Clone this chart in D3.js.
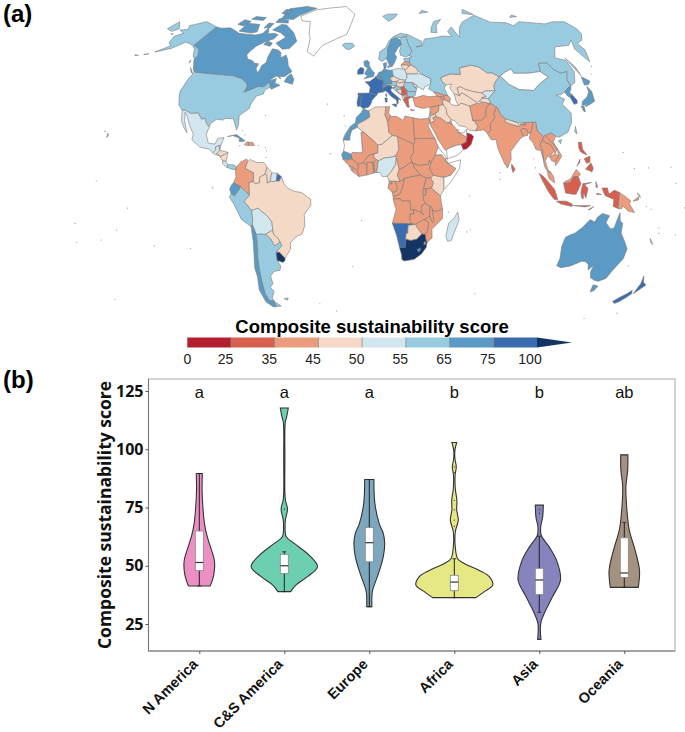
<!DOCTYPE html>
<html>
<head>
<meta charset="utf-8">
<script src="https://cdn.jsdelivr.net/npm/d3@7"></script>
<style>
body { margin: 0; background: #fff; }
svg { display: block; }
</style>
</head>
<body>
<div id="chart"></div>
<script>
// ---- panel (a) data ----
const legendTicks = [0, 25, 35, 45, 50, 55, 65, 75, 100];
const legendColors = ['#b2202f', '#d75f4e', '#ea9c7d', '#f4d9c7', '#d2e6ef', '#98cbe0', '#5a9ac5', '#3a6db0', '#143464'];

// country scores (null = no data)
const countryScores = [
  ['Canada', 70], ['USA', 60], ['Alaska', 60], ['Greenland', null], ['Mexico', 52], ['Guatemala', 52], ['Belize', 52],
  ['Honduras', 47], ['Salvador', 47], ['Nicaragua', 47], ['CostaRica', 52], ['Panama', 60], ['Cuba', 68], ['Haiti', 40], ['Dominican', 40],
  ['Colombia', 40], ['Venezuela', 47], ['Guyana', 47], ['Suriname', 52], ['FrGuiana', 80], ['Ecuador', 68], ['Peru', 60], ['Bolivia', 52],
  ['Paraguay', 47], ['Chile', 70], ['Argentina', 60], ['Uruguay', 105], ['Brazil', 47], ['Falkland', 60],
  ['Iceland', 60], ['Svalbard', 60], ['Norway', 60], ['Sweden', 70], ['Finland', 60], ['Denmark', 70], ['UK', 70], ['Ireland', 80],
  ['France', 80], ['Spain', 80], ['Portugal', 80], ['Belgium', 70], ['Netherlands', 70], ['Germany', 70], ['Switzerland', 70], ['Austria', 60],
  ['Italy', 80], ['Poland', 52], ['Czech', 47], ['Slovakia', 47], ['Hungary', 47], ['Belarus', 47], ['Lithuania', 47], ['Latvia', 40], ['Estonia', 60],
  ['Ukraine', 52], ['Moldova', 47], ['Romania', 60], ['Bulgaria', 60], ['Serbia', 30], ['Bosnia', 47], ['Croatia', 60], ['Slovenia', 60],
  ['Albania', 47], ['Macedonia', 40], ['Montenegro', 30], ['Greece', 30], ['Turkey', 40],
  ['Georgia', 40], ['Armenia', 40], ['Azerbaijan', 40], ['Syria', 40], ['Lebanon', 47], ['Israel', 52], ['Jordan', 47], ['Iraq', 47],
  ['Saudi', 40], ['Yemen', null], ['Oman', 20], ['UAE', null], ['Qatar', null], ['Kuwait', 40], ['Iran', 47], ['Afghanistan', 40], ['Pakistan', 40],
  ['Turkmenistan', 47], ['Uzbekistan', 47], ['Kazakhstan', 47], ['Kyrgyzstan', 52], ['Tajikistan', 47], ['Russia', 60], ['Mongolia', null], ['China', 60],
  ['NKorea', 70], ['SKorea', 80], ['Japan', 70], ['Taiwan', 60], ['India', 40], ['Nepal', 47], ['Bhutan', 40], ['Bangladesh', 40],
  ['Myanmar', 40], ['Thailand', 40], ['Laos', 40], ['Vietnam', 40], ['Cambodia', 40], ['Malaysia', 40], ['Indonesia', 30], ['PNG', 40],
  ['Philippines', 30], ['SriLanka', 30], ['Australia', 70], ['NewZealand', 80], ['NewCaledonia', 60],
  ['Morocco', 70], ['Algeria', 47], ['Tunisia', 40], ['Libya', 40], ['Egypt', 40], ['Sudan', 40], ['SSudan', 40], ['Chad', 40], ['Niger', 47], ['Mali', 40],
  ['Mauritania', null], ['Senegal', 70], ['GuineaBissau', 40], ['Guinea', 40], ['SierraLeone', 40], ['Liberia', 40], ['IvoryCoast', 40], ['Burkina', 40],
  ['Ghana', 40], ['Togo', 40], ['Benin', 40], ['Nigeria', 52], ['Cameroon', 47], ['CAR', 40], ['EqGuinea', 40], ['Gabon', 40], ['Congo', 40], ['DRC', 40],
  ['Uganda', 40], ['Kenya', 47], ['Rwanda', 40], ['Tanzania', 40], ['Ethiopia', 40], ['Eritrea', null], ['Djibouti', null], ['Somalia', null],
  ['Angola', 40], ['Zambia', 40], ['Zimbabwe', 40], ['Malawi', 40], ['Mozambique', 40], ['Namibia', 80], ['Botswana', 47], ['SouthAfrica', 105],
  ['Lesotho', 70], ['Swaziland', 40], ['Madagascar', 52]
];

// simplified country outlines, [lon, lat]
const countryOutlines = {
  Canada: [[[-141,69.6],[-135,69.3],[-128,70],[-124,69.5],[-115,68],[-108,68],[-100,68],[-95,69],[-94,72],[-90,69],[-85,69.5],[-81,69],[-82,67],[-87,65.5],[-92,63],[-94,60.5],[-94.5,58.8],[-92,57],[-88,56.5],[-85,55.3],[-82,55.2],[-82,53],[-80,51.3],[-79,52],[-79,54.5],[-77,56],[-78,58.7],[-78,62.4],[-73,62],[-70,61],[-68,58.5],[-65,60],[-62,57.5],[-60,55],[-56,52.5],[-60,50],[-66,50],[-70,47.5],[-65,49],[-65,47],[-61,46],[-66,44],[-67,45],[-69,47.3],[-71,45],[-75,45],[-79,43.5],[-83,42],[-82.5,45],[-84.5,46.5],[-88.5,48],[-95,49],[-110,49],[-123,49],[-125,50],[-130,54],[-133,57],[-137,59],[-141,60]],
    [[-80,73.7],[-72,71.5],[-68,70],[-62,66.5],[-65,63],[-70,62.5],[-78,65],[-73,68],[-80,70],[-89,71],[-85,73.8]],
    [[-117,69],[-105,68.7],[-101,69.5],[-105,73],[-117,73]],[[-90,76.5],[-78,76.5],[-75,78.5],[-62,82.3],[-75,83],[-92,81.5]],
    [[-125,72],[-118,71.5],[-116,74],[-124,74.5]],[[-92,74.5],[-80,74.7],[-82,76],[-92,76.5]],[[-95,79],[-87,78.5],[-88,81],[-95,81]],
    [[-118,75],[-106,75],[-106,76.5],[-117,76.5]],[[-87,64],[-81,63.5],[-81,65],[-86,65.7]],[[-59,47.7],[-53,46.7],[-53,49],[-56,51.5],[-58,50]],
    [[-128,50.7],[-123.5,48.4],[-125,48.7]],[[-98,71.5],[-93,72],[-93,74],[-98,74]],[[-64,49.9],[-61.8,49.2],[-63,49.2]],[[-132.5,54],[-131.5,53],[-132,52.8]]],
  USA: [[[-123,49],[-110,49],[-95,49],[-88.5,48],[-84.5,46.5],[-82.5,45],[-83,42],[-79,43.5],[-75,45],[-71,45],[-69,47.3],[-67,45],[-70,43.5],[-70,41.7],[-74,40.7],[-76,37],[-76,35],[-81,31.5],[-80,27],[-80.5,25.2],[-82.5,28],[-84,30],[-89,30],[-90,29.2],[-94,29.5],[-97,27.5],[-97.2,25.9],[-99.5,27.5],[-101.5,29.7],[-103,29],[-106.5,31.7],[-111,31.3],[-114.8,32.5],[-117.1,32.5],[-120.5,34.5],[-122.5,37.5],[-124.3,40.3],[-124,46]],
    [[-156,20.8],[-155,19.8],[-155.7,19]],[[-158.2,21.6],[-157.7,21.3],[-158,21.2]]],
  Alaska: [[[-141,69.6],[-148,70.4],[-156.5,71.3],[-163,69],[-166,68.3],[-162,66.5],[-168,65.6],[-161,64.5],[-165,62.5],[-162,59.5],[-158,58.5],[-164,54.8],[-155,57.5],[-152,59.5],[-150,61],[-146,60.7],[-141,60],[-137,58.5],[-133,55.5],[-130.5,55],[-130,56],[-134,59],[-137,59.5],[-141,60.3]],
    [[-170,53],[-167,53.7],[-168,53.2]],[[-176,52.2],[-173,52.2],[-175,51.8]],[[-170,63.5],[-168,63.3],[-170,63.1]]],
  Greenland: [[[-73,78.2],[-68,76],[-60,76],[-55,70.5],[-52,68],[-50,62],[-44,60],[-40,65],[-30,68.3],[-22,70.5],[-20,75],[-18,80],[-30,83.5],[-50,82.5],[-62,81.5]]],
  Mexico: [[[-117.1,32.5],[-114.8,32.5],[-111,31.3],[-106.5,31.7],[-103,29],[-101.5,29.7],[-99.5,27.5],[-97.2,25.9],[-97.8,22.5],[-95.5,18.8],[-91.5,18.5],[-90.5,21],[-87,21.5],[-88,18],[-89,17.9],[-91,17.2],[-90.5,16],[-92,14.6],[-94.5,16.2],[-100,17],[-105.5,20],[-105.5,22.5],[-109,26],[-112.5,30],[-114.7,31.7],[-113,28],[-109.5,23],[-112,25],[-115,28]]],
  Guatemala: [[[-92,14.6],[-90.5,16],[-91,17.2],[-89,17.9],[-88.2,15.8],[-89.3,14.4],[-90,13.8]]],
  Belize: [[[-89,17.9],[-88,18],[-88.2,15.8]]],
  Honduras: [[[-88.2,15.8],[-83.2,15],[-85,14],[-87.5,13],[-89.3,14.4]]],
  Salvador: [[[-90,13.8],[-89.3,14.4],[-87.7,13.3]]],
  Nicaragua: [[[-83.2,15],[-83.7,11],[-85.7,11.1],[-87.5,13],[-85,14]]],
  CostaRica: [[[-85.7,11.1],[-83.7,11],[-82.6,9.5],[-83,8.3],[-85.7,10]]],
  Panama: [[[-82.6,9.5],[-79.5,9.5],[-77.3,8.6],[-78,7.3],[-80,7.5],[-83,8.3]]],
  Cuba: [[[-85,22],[-80,23],[-75,20.7],[-74.2,20.2],[-77.5,19.9],[-78,21.5],[-82,22.5]]],
  Haiti: [[[-74.4,18.5],[-72,18.2],[-71.7,19.7],[-73,19.9]]],
  Dominican: [[[-71.7,19.7],[-72,18.2],[-68.5,18.3],[-69.5,19.7]]],
  Colombia: [[[-77.3,8.6],[-75.5,10.7],[-72,12.2],[-71.3,11],[-72.5,8],[-70,7],[-67.5,6],[-67.5,2],[-70,1.5],[-69.8,-4.2],[-72,-2.5],[-75,-0.2],[-78.8,1.4],[-77.5,4],[-78,7.3]]],
  Venezuela: [[[-71.3,11],[-70,12],[-66,10.6],[-62,10.7],[-60,8.5],[-61,5.3],[-64,4],[-64,1.5],[-66.5,1],[-67.5,2],[-67.5,6],[-70,7],[-72.5,8]]],
  Guyana: [[[-60,8.5],[-57.2,6],[-58,2],[-59.8,1.3],[-60,5],[-61,5.3]]],
  Suriname: [[[-57.2,6],[-54,5.8],[-54.5,2.3],[-56,2],[-58,2]]],
  FrGuiana: [[[-54,5.8],[-51.6,4.2],[-52.8,2.2],[-54.5,2.3]]],
  Ecuador: [[[-78.8,1.4],[-75,-0.2],[-75.5,-1.5],[-78.5,-4.5],[-80.3,-3.4],[-81,-1.5],[-80,0.5]]],
  Peru: [[[-75,-0.2],[-72,-2.5],[-69.8,-4.2],[-73,-7],[-70.5,-9.5],[-69,-11],[-69,-15.5],[-69.5,-17.5],[-70.4,-18.3],[-75.5,-15],[-79,-8],[-81.3,-5],[-80.3,-3.4],[-78.5,-4.5],[-75.5,-1.5]]],
  Bolivia: [[[-69,-11],[-65.4,-10],[-60.5,-13.5],[-58,-16.3],[-58,-20],[-62.6,-22],[-66,-21.8],[-68,-22],[-69.5,-17.5],[-69,-15.5]]],
  Paraguay: [[[-58,-20],[-57.8,-22],[-55.5,-24],[-54.6,-25.6],[-58,-27.3],[-58.5,-27],[-60,-24],[-62.6,-22]]],
  Chile: [[[-70.4,-18.3],[-69.5,-17.5],[-68,-22],[-68.5,-27],[-70,-33],[-71,-39],[-71.8,-44],[-72.5,-49],[-71.5,-52],[-68.5,-52.3],[-68.6,-55],[-71,-55],[-74.5,-52.5],[-75.5,-47],[-73.5,-41],[-73.5,-37],[-71.5,-30],[-70.5,-25]]],
  Argentina: [[[-66,-21.8],[-62.6,-22],[-60,-24],[-58.5,-27],[-58,-27.3],[-54.6,-25.6],[-53.8,-27.2],[-58,-30.2],[-58.4,-34],[-57,-36.5],[-58,-38.5],[-62,-39],[-65,-41],[-65,-44.5],[-67.5,-46],[-66,-48],[-69,-51],[-68.5,-52.3],[-71.5,-52],[-72.5,-49],[-71.8,-44],[-71,-39],[-70,-33],[-68.5,-27],[-68,-22]],[[-68.6,-52.7],[-65,-54.8],[-68.6,-55]]],
  Uruguay: [[[-58,-30.2],[-56,-30.2],[-53.3,-33],[-53.5,-34],[-55,-35],[-58.4,-34]]],
  Brazil: [[[-51.6,4.2],[-50,1],[-48,-1],[-44,-2.5],[-40,-3],[-37,-5],[-35,-6],[-35,-9],[-39,-13],[-39,-18],[-41,-22],[-45,-23.5],[-48.5,-26],[-49,-29],[-53.3,-33],[-56,-30.2],[-58,-30.2],[-53.8,-27.2],[-54.6,-25.6],[-55.5,-24],[-57.8,-22],[-58,-20],[-58,-16.3],[-60.5,-13.5],[-65.4,-10],[-69,-11],[-70.5,-9.5],[-73,-7],[-69.8,-4.2],[-70,1.5],[-67.5,2],[-66.5,1],[-64,1.5],[-64,4],[-61,5.3],[-60,5],[-59.8,1.3],[-58,2],[-56,2],[-54.5,2.3],[-52.8,2.2]]],
  Falkland: [[[-61,-51.5],[-58,-51.3],[-59,-52.3]]],
  Iceland: [[[-24,65.5],[-21,64],[-18,63.4],[-14,65],[-16,66.4],[-22,66.4]]],
  Svalbard: [[[11,79],[16,76.7],[22,78],[27,80],[17,80]]],
  Norway: [[[5,59],[7.5,58],[10.5,59.2],[12,61],[12.3,64],[14,65.5],[16,68],[20,69],[25,69],[29,69.5],[31,70.3],[25,71],[18,69.5],[14,67.5],[11,64.5],[6,62.5]]],
  Sweden: [[[10.8,59.2],[13,55.5],[14.3,55.5],[16.5,57.5],[18.5,60],[17.2,61.5],[21,64.5],[24,65.8],[23.5,68],[20,69],[16,68],[14,65.5],[12.3,64],[12,61]]],
  Finland: [[[24,65.8],[21.5,63],[21.5,60.8],[25,60],[28,60.5],[31,62.5],[29.5,66],[29,69.5],[25,69],[23.5,68]]],
  Denmark: [[[8.2,57],[10.5,57.5],[10,55],[8.7,54.9]],[[11,55.8],[12.5,56],[12,54.8]]],
  UK: [[[-5.5,50],[1,51],[1.7,52.7],[-0.2,54],[-2,56],[-2,57.6],[-3.5,58.6],[-6,58],[-5.5,56],[-3,54.8],[-4.5,53.2],[-5,52],[-3,51.4]]],
  Ireland: [[[-10,52],[-6,52.2],[-5.6,54.6],[-8,55.3],[-10,54]]],
  France: [[[-4.7,48.5],[-1.5,48.7],[1.5,50.2],[2.6,51],[4.2,50],[6,49.5],[8.2,49],[7.6,47.6],[7,45.8],[7.5,43.8],[4,43.4],[3.1,42.4],[-1.8,43.3],[-1.2,46],[-2.5,47.3]],[[8.6,42.5],[9.5,43],[9.3,41.4]]],
  Spain: [[[-9.2,43.2],[-1.8,43.3],[3.1,42.4],[0,40],[-0.5,38.5],[-2,36.8],[-5.5,36],[-7.4,37.2],[-7,39.5],[-6.5,41.8],[-8.8,42]]],
  Portugal: [[[-8.8,42],[-6.5,41.8],[-7,39.5],[-7.4,37.2],[-9,37],[-9.5,38.8]]],
  Belgium: [[[2.6,51],[4.2,51.4],[6,50.8],[6,49.5],[4.2,50]]],
  Netherlands: [[[3.5,51.4],[4.8,53],[7,53.3],[6,50.8],[4.2,51.4]]],
  Germany: [[[6,50.8],[7,53.3],[8.7,54.9],[11,54],[14.2,53.9],[14.8,51],[12.2,50.3],[13.7,48.6],[13,47.5],[9.5,47.5],[7.6,47.6],[8.2,49],[6,49.5]]],
  Switzerland: [[[7.6,47.6],[9.5,47.5],[10.4,46.8],[8.5,46],[7,45.8]]],
  Austria: [[[9.5,47.5],[13,47.5],[13.7,48.6],[17,48.7],[16.2,46.9],[12.4,46.7],[10.4,46.8]]],
  Italy: [[[7,45.8],[8.5,46],[10.4,46.8],[12.4,46.7],[13.7,45.7],[12.3,45],[12.5,44],[16,41.8],[18.4,40],[16.8,40.4],[16.5,38.5],[15.8,38],[15.5,40],[12.3,41.7],[10.3,43.5],[8.7,44.4],[7.5,43.8]],[[12.5,38],[15.6,38.2],[15,36.7]],[[8.2,41],[9.7,41],[9.5,39.1],[8.5,39]]],
  Poland: [[[14.2,53.9],[18.5,54.7],[23,54.3],[24,52],[24,50.5],[22.7,49.1],[19,49.5],[14.8,51]]],
  Czech: [[[12.2,50.3],[14.8,51],[18.8,49.6],[17,48.7],[13.7,48.6]]],
  Slovakia: [[[17,48.7],[18.8,49.6],[22.5,49.1],[22,48.4],[18,47.8]]],
  Hungary: [[[16.2,46.9],[17,48.7],[18,47.8],[22,48.4],[21,46.2],[18.5,45.9]]],
  Belarus: [[[23.5,53.9],[26.6,55.7],[28,56.2],[31,55],[32.5,53.3],[31,52],[24,52],[23,54.3]]],
  Lithuania: [[[21,55.3],[21,56.4],[25,56.3],[26.6,55.7],[23.5,53.9],[23,54.3]]],
  Latvia: [[[21,56.4],[24,57.9],[27.5,57.5],[28,56.2],[26.6,55.7],[25,56.3]]],
  Estonia: [[[24,57.9],[23.5,59.2],[28,59.5],[27.5,57.5]]],
  Ukraine: [[[24,50.5],[24,52],[31,52],[34,52],[40,49.6],[39,47],[35,46],[33.5,44.5],[30.5,46],[29.5,45.3],[28.2,45.5],[30,46.5],[27,48],[22.7,48],[22.5,49.1],[22.7,49.1]]],
  Moldova: [[[27,48],[30,46.5],[28.2,45.5]]],
  Romania: [[[22,48.4],[22.7,48],[27,48],[28.2,45.5],[29.5,45.3],[28.6,43.8],[25,43.7],[22.7,44.2],[21,46.2]]],
  Bulgaria: [[[22.7,44.2],[25,43.7],[28.6,43.8],[27.7,42],[26,41.3],[23,41.4],[22.5,42.5]]],
  Serbia: [[[21,46.2],[22.7,44.2],[22.5,42.5],[20.5,42.3],[19.3,43.5],[19.2,45],[18.5,45.9]]],
  Bosnia: [[[15.8,45],[19.2,45],[19.3,43.5],[18.5,42.5],[17.8,42.8]]],
  Croatia: [[[13.7,45.5],[16,46.4],[18.5,45.9],[19.2,45],[15.8,45],[17.8,42.8],[15,44.5]]],
  Slovenia: [[[13.7,45.7],[16.2,46.9],[16,46.4],[13.7,45.5]]],
  Albania: [[[19.3,42.2],[20.5,42.3],[20.9,40.8],[20,39.7],[19.4,41]]],
  Macedonia: [[[20.5,42.3],[22.5,42.5],[23,41.4],[20.9,40.8]]],
  Montenegro: [[[18.5,42.5],[19.3,43.5],[20.5,42.3],[19.3,42.2]]],
  Greece: [[[20,39.7],[20.9,40.8],[23,41.4],[26,41.3],[24,40.8],[23,40.3],[23,38],[23.2,36.5],[21.7,36.8],[21,38.5]],[[23.5,35.5],[26.3,35.2],[24.8,34.9]]],
  Turkey: [[[26,41.3],[26.2,40],[27,37],[30,36.2],[32.5,36],[36,36.6],[36,36.3],[42,37.2],[44.7,37.3],[44.5,39.7],[43.5,41.1],[41.5,41.5],[36,41.3],[33,42],[29,41.2],[27.5,41]]],
  Georgia: [[[40,43.5],[41.5,41.5],[43.5,41.1],[45,41.2],[46.5,41.3],[46,42],[43,43]]],
  Armenia: [[[43.5,41.1],[45,41.2],[46.5,39.5],[44.5,39.7]]],
  Azerbaijan: [[[45,41.2],[46.5,41.3],[46,42],[48.5,41.8],[50,40.3],[49,38.4],[46.5,39.5]]],
  Syria: [[[35.9,35.8],[36,36.3],[42,37.2],[41,34.4],[38.8,33.4],[36.5,32.5],[36,33.3]]],
  Lebanon: [[[35.1,33],[35.9,34.6],[36,33.3]]],
  Israel: [[[34.3,31.3],[35.1,33],[35.7,32.7],[35.3,31.4],[35,29.5]]],
  Jordan: [[[35,29.5],[35.3,31.4],[35.7,32.7],[36.5,32.5],[38.8,33.4],[39,32],[37,31.5],[38,30],[36,29.3]]],
  Iraq: [[[39,32],[38.8,33.4],[41,34.4],[42,37.2],[44.7,37.3],[46,35.8],[46,33],[48,30.5],[47.7,30],[46.5,29.1],[44.7,29.2],[42,31.2]]],
  Saudi: [[[35,29.5],[36,29.3],[38,30],[37,31.5],[39,32],[42,31.2],[44.7,29.2],[46.5,29.1],[48,28.5],[50,26.5],[51.2,24.6],[55,22.7],[55.7,22],[55,20],[52,19],[49,18.6],[45,17.5],[43.2,16.7],[42.5,16.5],[39,21],[37,25],[35,28]]],
  Yemen: [[[43.2,16.7],[45,17.5],[49,18.6],[52,19],[53,16.6],[49,14],[45,12.9],[43.3,12.8]]],
  Oman: [[[55,20],[55.7,22],[56,24.3],[58.6,23.6],[59.8,22.5],[57.8,19],[55,17],[53,16.6],[52,19]]],
  UAE: [[[51.2,24.6],[54,24.2],[56.3,26],[56,24.3],[55.7,22],[55,22.7]]],
  Qatar: [[[50.8,24.8],[51.5,25.5],[51,26.1]]],
  Kuwait: [[[46.5,29.1],[48,28.5],[47.7,30]]],
  Iran: [[[44.5,39.7],[46.5,39.5],[49,38.4],[50,37.2],[54,36.9],[56,38],[61,36.5],[61,31.5],[60.9,29.9],[62,29.5],[63.3,27],[61.5,25.1],[57.5,25.6],[56,27],[52,27.6],[50,30],[48,30.5],[46,33],[46,35.8],[44.7,37.3]]],
  Afghanistan: [[[61,36.5],[65,37.4],[70,38],[74.8,37.2],[71.5,36],[70,33.5],[69.5,31.7],[66.4,29.8],[60.9,29.9],[61,31.5]]],
  Pakistan: [[[60.9,29.9],[66.4,29.8],[69.5,31.7],[70,33.5],[71.5,36],[74.8,37.2],[77.5,35.5],[74.5,32.5],[75,31],[71,28],[70.5,25],[68.2,23.8],[66.5,25.4],[61.5,25.1],[63.3,27],[62,29.5]]],
  Turkmenistan: [[[53,42],[54,42.3],[56,41.3],[58,42.7],[61,41.2],[66,38],[65,37.4],[61,36.5],[56,38],[54,36.9],[53,39.5]]],
  Uzbekistan: [[[56,45],[58.5,45.5],[61,44.2],[66,43],[70.9,42.2],[73,40.5],[70.5,40.2],[68,38.5],[66,38],[61,41.2],[58,42.7],[56,41.3]]],
  Kazakhstan: [[[46.8,48.5],[49,46.5],[53,46.8],[51,45],[53,42],[54,42.3],[56,41.3],[56,45],[58.5,45.5],[61,44.2],[66,43],[70.9,42.2],[74,43],[80,42.8],[80.5,45],[83,47],[87,49],[83,51],[80,51],[76,54],[71,55],[62,54],[61,51],[54,51.5],[47,50]]],
  Kyrgyzstan: [[[70.9,42.2],[74,43],[80,42.8],[74,39.5],[70,39.8],[73,40.5]]],
  Tajikistan: [[[68,38.5],[70.5,40.2],[70,39.8],[74,39.5],[74.8,37.2],[70,38]]],
  Russia: [[[29,69.5],[31,70.3],[41,67],[40,65],[35,64.5],[40,64.7],[44,68],[54,68.5],[60,69],[68,68.5],[67,71],[73,73],[74,68],[80,72.5],[87,75],[105,77.7],[113,73.8],[127,72.7],[130,71],[140,72.5],[160,69.7],[170,70],[180,69],[180,65],[177,62.5],[170,60],[163,59],[163,56],[157,51],[156,57],[162,61],[155,59],[143,59.3],[135,54.7],[141,53],[140,48],[135,43.5],[130.7,42.3],[131,45],[135,48.4],[130,48],[127,50],[126,53],[120,53.3],[117,49.7],[108,49.5],[98,50],[98,52],[92,50.7],[87.8,49.2],[87,49],[83,51],[80,51],[76,54],[71,55],[62,54],[61,51],[54,51.5],[47,50],[46.8,48.5],[49,46.5],[47.5,45],[48.5,41.8],[46,42],[43,43],[40,43.5],[37,45],[39,47],[40,49.6],[34,52],[32.5,53.3],[31,55],[28,56.2],[27.5,57.5],[28,59.5],[30,60],[28,60.5],[31,62.5],[29.5,66]],
    [[52,71],[57,70.7],[60,74],[68,76.8],[60,76],[54,73]],[[142,54],[143.5,50],[142.5,46],[142,50]],[[-180,69],[-170,66],[-173,64.3],[-180,65]],[[95,79],[105,78],[100,81]],[[137,75],[145,75],[142,76]],[[50,80],[60,80.5],[55,81.5]]],
  Mongolia: [[[87.8,49.2],[92,50.7],[98,52],[98,50],[108,49.5],[117,49.7],[120,47],[112,44.7],[105,41.8],[96,42.7],[91,45.2]]],
  China: [[[74,39.5],[80,42.8],[80.5,45],[83,47],[87,49],[87.8,49.2],[91,45.2],[96,42.7],[105,41.8],[112,44.7],[120,47],[117,49.7],[120,53.3],[126,53],[127,50],[130,48],[135,48.4],[131,45],[130.7,42.3],[128,41.5],[124.4,40],[121,39],[118,39],[122,37],[119,35],[122,31],[120,27],[116,23],[110,21],[108,21.5],[106,23],[102,22],[101,21.5],[98,24],[98.5,28],[92,28],[88,28],[81,30],[78.5,32],[78,35],[74.8,37.2]],[[109,19.5],[111,20],[110,18.2]]],
  NKorea: [[[124.4,40],[128,41.5],[130.7,42.3],[129.7,41],[127.5,39.7],[128.3,38.5],[126,37.8],[125,38]]],
  SKorea: [[[126,37.8],[128.3,38.5],[129.4,36],[128.5,34.8],[126.3,34.5]]],
  Japan: [[[130.9,34],[135,33.6],[140,35],[141.9,39],[141,41.4],[139.8,39],[136.8,37],[132.5,35.5]],[[130,33.5],[131.8,33.5],[131,31],[130.2,31.3]],[[132.5,34],[134.5,34.2],[133,33]],[[140,42],[142,45.5],[145.5,43.3],[143,42]]],
  Taiwan: [[[120,23],[121.5,25.2],[121,22]]],
  India: [[[68.2,23.8],[70.5,25],[71,28],[75,31],[74.5,32.5],[77.5,35.5],[78,35],[78.5,32],[81,30],[80,28.7],[84,27.4],[88.2,26.4],[88.8,27.3],[92,26.9],[92,28],[97,28],[95,25],[93.5,23],[92.3,23.5],[92,25],[89.8,25.5],[88.3,24.8],[89,22],[87,21],[85,19.5],[80.3,15.5],[80,12],[77.5,8],[76,10],[73,17],[72.7,21],[70,20.8],[68.8,22.5]]],
  Nepal: [[[80,28.7],[81,30],[88,28],[88.2,26.4],[84,27.4]]],
  Bhutan: [[[88.8,27.3],[92,28],[92,26.9]]],
  Bangladesh: [[[88.3,24.8],[89.8,25.5],[92,25],[92.3,23.5],[91.8,22.3],[89,22]]],
  Myanmar: [[[92.3,21],[93.5,23],[95,25],[97,28],[98.5,28],[98,24],[101,21.5],[100,20.4],[97.8,18],[98.8,15.5],[98.5,11],[97.7,15.5],[95,16],[94,19]]],
  Thailand: [[[100,20.4],[101,19],[104,18],[105.5,15.5],[102.5,12.5],[101,13],[99.5,11],[100.5,7],[102,6],[100.2,6.5],[99,8],[98.5,10],[98.8,15.5],[97.8,18]]],
  Laos: [[[101,21.5],[102,22],[105,19],[107.5,16],[105.5,14],[105.5,15.5],[104,18],[101,19],[100,20.4]]],
  Vietnam: [[[102,22],[106,23],[108,21.5],[105.8,19],[109.3,13],[107,10.5],[105,8.8],[105,10.5],[107.5,13],[107.5,16],[105,19]]],
  Cambodia: [[[102.5,12.5],[105.5,14],[107.5,13],[105,10.5],[103,11]]],
  Malaysia: [[[100.2,6.5],[102,6],[103.5,4],[104,1.4],[101,3],[100.3,5]],[[109.7,1.8],[113,3],[116.7,7],[119,5],[117.5,4],[115,4],[113,1.5],[111,1.2]]],
  Indonesia: [[[95.3,5.6],[98,4],[104,-1.5],[106,-5.8],[104,-5.8],[100.5,-2.5],[97,2.5]],[[105.3,-6.5],[111,-6.5],[114.5,-7.7],[114.5,-8.7],[108,-7.8]],[[109,1.5],[111,1.2],[113,1.5],[115,4],[117.5,4],[119,1],[116.3,-3.5],[114,-3.5],[110.3,-3]],[[120,1],[125,1.5],[121,0.5],[123,-1],[122,-5],[120.5,-3],[120.5,-5.5],[119.5,-5],[119,-2.5]],[[127.5,1.8],[128.5,-0.5],[127.5,-0.5]],[[128,-3],[130.8,-3.5],[128,-3.5]],[[131,-0.8],[134,-0.8],[135,-3.3],[138,-1.7],[141,-2.6],[141,-9.1],[138,-8.3],[138,-5.5],[133,-4],[132,-2.8]],[[124,-10],[127,-8.5],[125,-9.9]],[[115,-8.3],[119,-8.3],[125,-8.2],[122,-8.8]]],
  PNG: [[[141,-2.6],[145,-4.5],[147.8,-6],[147,-7],[150.8,-10.5],[147,-10],[143.5,-8],[143,-9.2],[141,-9.1]],[[149,-6],[152,-4.2],[152,-5.5]],[[151,-2.8],[153,-4.5],[152.5,-3.5]]],
  Philippines: [[[120.5,18.5],[122.3,18.4],[122,15.5],[124,13],[122,13.7],[120.5,14.5],[120,16]],[[122,7],[125.5,9.7],[126.5,7.5],[125.5,5.8],[124,6.5]],[[122,11.5],[125.5,12.5],[125,10],[123,9.5]],[[117.3,8.4],[119.5,11.3],[119.2,10]]],
  SriLanka: [[[79.8,8],[80,9.8],[81.8,7.5],[80.5,6]]],
  Australia: [[[114,-22],[113.5,-26],[115,-31],[115,-34.3],[118,-35],[123.5,-33.9],[129,-31.6],[131.2,-31.5],[134,-32.7],[135.7,-34.9],[137.7,-32.7],[137.8,-35.5],[140,-38],[143.5,-38.8],[146.3,-39],[150,-37.5],[151,-34],[153.5,-29],[153,-25],[149.5,-22],[146,-19],[145.3,-15],[143.5,-14],[142.5,-10.8],[141.7,-13.5],[141,-17],[139,-17.5],[135.5,-15],[136.8,-12.2],[132.5,-11.3],[130,-13],[129,-15],[126,-14],[122.5,-17.5],[119,-20],[116,-21]],[[144.7,-40.7],[148.3,-40.9],[148,-43],[146,-43.6]]],
  NewZealand: [[[172.7,-34.5],[175.5,-36.8],[178.5,-37.7],[177,-39.5],[175.3,-41.6],[174.8,-39.8],[174.5,-37.5]],[[172.7,-40.5],[174.3,-41.8],[172.8,-43.7],[171,-45.5],[169,-46.6],[166.5,-46],[168.5,-44],[171.3,-42]]],
  NewCaledonia: [[[164,-20.2],[167,-22.3],[165.5,-21.8]]],
  Morocco: [[[-5.5,35.9],[-2,35],[-1.2,32.2],[-3.5,31],[-8.7,28.7],[-8.7,27.3],[-12,26],[-13,23],[-13,21.3],[-17,21.4],[-16,23.7],[-13,27.7],[-10,29.5],[-9.5,32],[-6.8,34]]],
  Algeria: [[[-2,35],[2,36.8],[8.6,36.9],[8,33],[9.5,30],[10,25],[12,23.5],[6,19.5],[3.3,19],[1,21],[-4.9,25],[-8.7,27.3],[-8.7,28.7],[-3.5,31],[-1.2,32.2]]],
  Tunisia: [[[8.6,36.9],[11,37],[10.2,34],[11.5,32.5],[9.5,30],[8,33]]],
  Libya: [[[11.5,32.5],[15,32.3],[19,30.5],[20,32.5],[25,31.7],[25,20],[24,19.5],[15,23],[12,23.5],[10,25],[9.5,30]]],
  Egypt: [[[25,31.7],[29,31],[34.3,31.3],[35,29.5],[33.5,28],[35.7,23.9],[37,22],[25,22]]],
  Sudan: [[[25,22],[37,22],[38.5,18],[36.5,14.3],[34,11],[33,12],[32.5,10],[27,9.5],[23.5,10.5],[22,13],[24,15.5],[24,19.5],[25,20]]],
  SSudan: [[[27,9.5],[32.5,10],[33,12],[34,11],[33,8],[35,5],[33.5,3.7],[31,3.7],[27.5,5],[24,8.7],[23.5,10.5]]],
  Chad: [[[15,23],[24,19.5],[24,15.5],[22,13],[23.5,10.5],[22,10.8],[19,9],[15.5,7.5],[14,13],[13.5,14],[15.5,17]]],
  Niger: [[[12,23.5],[15,23],[15.5,17],[13.5,14],[11,13.4],[7,13],[3.6,11.7],[2.5,12.3],[1,13.3],[1,15],[3.3,15.4],[3.3,19],[6,19.5]]],
  Mali: [[[-12.2,14.8],[-11.5,15.6],[-5.5,15.5],[-6.5,25],[-4.9,25],[1,21],[3.3,19],[3.3,15.4],[1,15],[-2,14.2],[-5.3,10.8],[-8,10.2],[-11.4,12.4]]],
  Mauritania: [[[-17,21.4],[-13,21.3],[-13,23],[-12,26],[-8.7,27.3],[-4.9,25],[-6.5,25],[-5.5,15.5],[-11.5,15.6],[-12.2,14.8],[-16.5,16.2],[-16,19]]],
  Senegal: [[[-16.5,16.2],[-12.2,14.8],[-11.4,12.4],[-16.7,12.4],[-17.5,14.7]]],
  GuineaBissau: [[[-16.7,12.4],[-13.7,12.4],[-15,11]]],
  Guinea: [[[-13.7,12.4],[-11.4,12.4],[-8,10.2],[-7.6,8],[-9,7.5],[-10.5,8.5],[-13.2,9.5],[-15,11]]],
  SierraLeone: [[[-13.2,9.5],[-10.5,8.5],[-11.5,7]]],
  Liberia: [[[-11.5,7],[-10.5,8.5],[-9,7.5],[-7.6,6],[-7.5,4.4]]],
  IvoryCoast: [[[-7.6,8],[-8,10.2],[-5.3,10.8],[-2.8,9.8],[-3,5.1],[-7.5,4.4],[-7.6,6],[-9,7.5]]],
  Burkina: [[[-5.3,10.8],[-2,14.2],[1,15],[1,13.3],[2.5,12.3],[0.5,11],[-2.8,11],[-2.8,9.8]]],
  Ghana: [[[-2.8,11],[0.5,11],[1,6],[-3,5.1],[-2.8,9.8]]],
  Togo: [[[0.5,11],[1,11],[1.6,6.2],[1,6]]],
  Benin: [[[1,11],[2.5,12.3],[3.6,11.7],[2.7,6.3],[1.6,6.2]]],
  Nigeria: [[[2.7,6.3],[3.6,11.7],[7,13],[11,13.4],[13.5,14],[14,13],[13.5,10],[11,6.7],[8.7,4.5],[6,4.3],[4.5,6.3]]],
  Cameroon: [[[8.7,4.5],[11,6.7],[13.5,10],[14,13],[15.5,7.5],[14.5,5],[16,2],[13.2,2.2],[11.3,2.2],[9.8,2.3]]],
  CAR: [[[15.5,7.5],[19,9],[22,10.8],[23.5,10.5],[24,8.7],[27.5,5],[22,4.2],[18.5,3.5],[16,2],[14.5,5]]],
  EqGuinea: [[[9.8,2.3],[11.3,2.2],[11.3,1],[9.6,1]]],
  Gabon: [[[9.6,1],[11.3,1],[11.3,2.2],[13.2,2.2],[14.5,-0.5],[14,-2.5],[11.5,-3],[9,-1]]],
  Congo: [[[13.2,2.2],[16,2],[18.5,3.5],[17.5,-0.5],[15.8,-4],[12,-5],[11.5,-3],[14,-2.5],[14.5,-0.5]]],
  DRC: [[[18.5,3.5],[22,4.2],[27.5,5],[31,3.7],[29.5,-0.5],[29,-3],[29.5,-6.5],[30.7,-8.2],[28.5,-9],[28.5,-12],[29.8,-13.4],[27.5,-12],[24,-11],[22,-11],[21.8,-7],[17,-7],[16,-6],[12.2,-6],[12,-5],[15.8,-4],[17.5,-0.5]]],
  Uganda: [[[31,3.7],[33.5,3.7],[35,1.5],[33.9,-1],[29.7,-1.3],[29.5,-0.5]]],
  Kenya: [[[33.5,3.7],[35,5],[41,4],[41,-1.6],[39,-4.6],[33.9,-1],[35,1.5]]],
  Rwanda: [[[29,-1.4],[30.8,-1.3],[30.7,-4.3],[29.3,-4.4]]],
  Tanzania: [[[30.7,-1.3],[33.9,-1],[39,-4.6],[39.5,-7],[40.4,-10.5],[37.5,-11.7],[34.8,-11.5],[34,-9.5],[30.7,-8.2],[29.5,-6.5],[29.3,-4.4],[30.7,-4.3]]],
  Ethiopia: [[[34,11],[36.5,14.3],[40,14.5],[42,12.5],[42.8,11],[48,8],[45,5],[42,4.2],[41,4],[35,5],[33,8]]],
  Eritrea: [[[36.5,14.3],[38.5,18],[43.3,12.5],[42,12.5],[40,14.5]]],
  Djibouti: [[[42.8,11],[43.3,12.5],[42,12.5]]],
  Somalia: [[[41,-1.6],[41,4],[42,4.2],[45,5],[48,8],[42.8,11],[44,10.5],[51,12],[50,8],[45,2]]],
  Angola: [[[12,-6],[16,-6],[17,-7],[21.8,-7],[22,-11],[24,-11],[24,-13],[22,-13],[22,-16],[23.4,-17.6],[18.5,-17.4],[14,-17.4],[11.8,-17.3],[13.8,-11],[13,-9]]],
  Zambia: [[[22,-13],[24,-13],[24,-11],[27.5,-12],[29.8,-13.4],[28.5,-12],[28.5,-9],[30.7,-8.2],[33,-9.5],[33.2,-14],[30.2,-15.6],[28,-16.5],[25.3,-17.8],[23.4,-17.6],[22,-16]]],
  Zimbabwe: [[[25.3,-17.8],[28,-16.5],[30.2,-15.6],[32.9,-16.7],[32.5,-21],[31.3,-22.4],[29.3,-22.2],[26,-19]]],
  Malawi: [[[33,-9.5],[34,-9.5],[34.8,-11.5],[35.8,-16],[35,-17],[33.2,-14]]],
  Mozambique: [[[34.8,-11.5],[37.5,-11.7],[40.4,-10.5],[40.7,-15],[35,-20],[35.5,-24],[32.8,-26],[32,-25],[31.3,-22.4],[32.5,-21],[32.9,-16.7],[30.2,-15.6],[33.2,-14],[35,-17],[35.8,-16]]],
  Namibia: [[[11.8,-17.3],[14,-17.4],[18.5,-17.4],[23.4,-17.6],[25.3,-17.8],[21,-18.3],[21,-22],[20,-22],[20,-28.5],[16.5,-28.6],[14.5,-23]]],
  Botswana: [[[21,-18.3],[25.3,-17.8],[26,-19],[29.3,-22.2],[26.5,-24.7],[23,-25.3],[20,-24.8],[20,-22],[21,-22]]],
  SouthAfrica: [[[16.5,-28.6],[20,-28.5],[20,-24.8],[23,-25.3],[26.5,-24.7],[29.3,-22.2],[31.3,-22.4],[32,-25],[32.8,-26],[32.5,-28.5],[30,-31.5],[26,-34],[20,-34.8],[18.4,-34.2],[18,-32]]],
  Lesotho: [[[27.2,-29.5],[29,-28.7],[29.4,-29.8],[28,-30.6]]],
  Swaziland: [[[31,-25.8],[32,-25.9],[32,-27],[31,-27.2]]],
  Madagascar: [[[49.3,-12],[50.4,-15.5],[47,-25],[45,-25.5],[43.5,-23],[44.5,-17],[47,-15.3]]]
};

// tiny islands with no visible fill
const islandSpecks = [[-172,-14],[-175,-21],[-160,-21],[-149,-17.6],[-140,-9],[-157,2],[-130,-25],[-109,-27],[-91,-0.5],[-90.5,-1],[-24,15],[-28,38],[-17,32.7],[-16,28],[-65,32],[-77,25],[-75,23],[-61,13],[-61,16],[-62,17.5],[-66,18.3],[-77,18],
  [57.5,-20],[55.5,-21],[73,3],[73,6],[44,-12],[55.5,-4.6],[145,13.5],[150,7],[158,7],[171,7],[173,1],[179,-8],[178,-18],[167,-16],[168,-18],[160,-9],[157,-8],[93,12],[93.5,8],[159,-31.5],[150,46],[155,49],[70,-49],[-26,-58],[-37,-54.5],[-12,-37.5],[178,-50],[159,-54.5],[-176,-44],[-6,-16]];

// ---- panel (b) data ----
const regions = ['N America', 'C&S America', 'Europe', 'Africa', 'Asia', 'Oceania'];
const regionColors = ['#ec8fc5', '#6dcfb2', '#7da7bc', '#e6e884', '#8784bd', '#a5917f'];
const sigLetters = ['a', 'a', 'a', 'b', 'b', 'ab'];
const yTicks = [25, 50, 75, 100, 125];

// violin profiles as [score, density]
const violinNAmerica = [[41.3,.27],[43,.31],[46,.36],[50,.385],[53,.37],[57,.30],[63,.19],[68,.13],[75,.09],[82,.07],[89.6,.075]];
const violinCSAmerica = [[38.9,.16],[41.7,.29],[45.3,.58],[49.6,.83],[53.9,.66],[59.6,.25],[62.4,.05],[67.4,.02],[70,.03],[74.3,.08],[78,.03],[81,.015],[95,.015],[111.7,.025],[114,.06],[117.7,.1]];
const violinEurope = [[32.4,.065],[36.7,.065],[39.6,.085],[46.7,.23],[53.9,.35],[59.6,.385],[63.9,.35],[68,.25],[76.7,.14],[87,.115]];
const violinAfrica = [[36.3,.54],[38.9,.75],[41.7,.96],[45.3,.875],[48,.625],[51,.25],[53,.085],[58,.025],[64.6,.025],[69.6,.1],[73.9,.06],[78,.065],[83,.025],[88.9,.02],[92.4,.05],[96,.015],[99.6,.015],[102.9,.06]];
const violinAsia = [[18.4,.04],[25.3,.035],[29.6,.125],[36.7,.33],[43.9,.53],[52.4,.43],[58,.25],[63,.05],[66.7,.035],[71,.085],[76,.1]];
const violinOceania = [[40.7,.35],[48,.38],[56.7,.27],[65.3,.125],[74,.065],[84,.04],[91,.085],[97.6,.09]];
const violins = [violinNAmerica, violinCSAmerica, violinEurope, violinAfrica, violinAsia, violinOceania];

// whisker low, q1, median, q3, whisker high
const boxNAmerica = [41.3, 47.9, 51.4, 64.9, 89.6];
const boxCSAmerica = [38.9, 46.7, 50, 54.9, 56];
const boxEurope = [32.4, 51.7, 59.9, 66.4, 87];
const boxAfrica = [36.3, 39.3, 43, 45.9, 53];
const boxAsia = [30, 37.7, 43.9, 48.9, 62.7];
const boxOceania = [40.7, 45, 46.9, 62, 68.6];
const boxes = [boxNAmerica, boxCSAmerica, boxEurope, boxAfrica, boxAsia, boxOceania];

const outliers = [[], [74.3], [], [92.4, 90, 78, 74, 69.6, 67], [74, 72.5], []];

const width = 685;
const height = 732;
const sansFont = '"Liberation Sans", Arial, sans-serif';
const axisFont = '"Open Sans", sans-serif';

const svg = d3.select('#chart')
    .append('svg')
    .attr('width', width)
    .attr('height', height)
    .style('background', '#fff');

// ---- map ----
function sinci(x) { return x ? x / Math.sin(x) : 1; }
function winkel3Raw(x, y) {
    const cosy = Math.cos(y);
    const s = sinci(Math.acos(cosy * Math.cos(x / 2)));
    return [(2 * cosy * Math.sin(x / 2) * s + x / (Math.PI / 2)) / 2, (Math.sin(y) * s + y) / 2];
}

const projection = d3.geoProjection(winkel3Raw)
    .scale(123)
    .translate([372, 186]);

const colorScale = d3.scaleThreshold()
    .domain(legendTicks.slice(1))
    .range(legendColors);

const ringLine = d3.line().curve(d3.curveLinearClosed);
const ringsPath = rings => rings.map(r => ringLine(r.map(p => projection(p)))).join('');

const mapLayer = svg.append('g').attr('id', 'map');

mapLayer.selectAll('path.country')
    .data(countryScores)
    .enter()
    .append('path')
    .attr('class', 'country')
    .attr('d', d => ringsPath(countryOutlines[d[0]]))
    .attr('fill', d => d[1] === null ? '#fff' : colorScale(d[1]))
    .attr('stroke', '#7a7a7a')
    .attr('stroke-width', 0.6)
    .attr('stroke-linejoin', 'round');

mapLayer.selectAll('circle.speck')
    .data(islandSpecks)
    .enter()
    .append('circle')
    .attr('class', 'speck')
    .attr('cx', d => projection(d)[0])
    .attr('cy', d => projection(d)[1])
    .attr('r', 0.6)
    .attr('fill', '#999');

// ---- colour legend ----
const legendX = d3.scalePoint()
    .domain(legendTicks)
    .range([187.3, 537]);

const legend = svg.append('g').attr('id', 'legend');

legend.selectAll('rect')
    .data(legendTicks.slice(0, -1))
    .enter()
    .append('rect')
    .attr('x', d => legendX(d))
    .attr('y', 337.5)
    .attr('width', legendX.step())
    .attr('height', 10)
    .attr('fill', d => colorScale(d));

legend.selectAll('line')
    .data(legendTicks.slice(1, -1))
    .enter()
    .append('line')
    .attr('x1', d => legendX(d))
    .attr('x2', d => legendX(d))
    .attr('y1', 337.5)
    .attr('y2', 347.5)
    .attr('stroke', '#8a8a8a')
    .attr('stroke-width', 0.8);

legend.append('path')
    .attr('d', d3.line()([[legendX(100), 337.5], [572, 342.5], [legendX(100), 347.5]]))
    .attr('fill', legendColors[8]);

legend.selectAll('text.tick')
    .data(legendTicks)
    .enter()
    .append('text')
    .attr('class', 'tick')
    .attr('x', d => legendX(d) - (d === 0 ? 0 : d === 100 ? 7 : 5.5))
    .attr('y', 364)
    .attr('text-anchor', 'middle')
    .attr('font-family', sansFont)
    .attr('font-size', 14)
    .attr('fill', '#222')
    .text(d => d);

legend.append('text')
    .attr('x', 372)
    .attr('y', 333)
    .attr('text-anchor', 'middle')
    .attr('font-family', sansFont)
    .attr('font-weight', 'bold')
    .attr('font-size', 18.5)
    .attr('fill', '#000')
    .text('Composite sustainability score');

svg.append('text').attr('x', 3).attr('y', 22)
    .attr('font-family', sansFont).attr('font-weight', 'bold').attr('font-size', 24).text('(a)');
svg.append('text').attr('x', 3).attr('y', 388)
    .attr('font-family', sansFont).attr('font-weight', 'bold').attr('font-size', 24).text('(b)');

// ---- violins ----
const plot = { left: 148.5, right: 675, top: 379, bottom: 651 };

const xScale = d3.scalePoint()
    .domain(regions)
    .range([199.3, 624.3]);

const yScale = d3.scaleLinear()
    .domain([25, 125])
    .range([624, 391]);

const widthScale = d3.scaleLinear()
    .domain([0, 1])
    .range([0, 40]);

const panel = svg.append('g').attr('id', 'panel-b');

panel.append('rect')
    .attr('x', plot.left)
    .attr('y', plot.top)
    .attr('width', plot.right - plot.left)
    .attr('height', plot.bottom - plot.top)
    .attr('fill', 'none')
    .attr('stroke', '#b5b5b5')
    .attr('stroke-width', 1.2);

const xAxis = d3.axisBottom(xScale).tickSize(3).tickSizeOuter(0);
const yAxis = d3.axisLeft(yScale).tickValues(yTicks).tickSize(3).tickSizeOuter(0);

const xAxisG = panel.append('g')
    .attr('id', 'x-axis')
    .attr('transform', `translate(0, ${plot.bottom})`)
    .call(xAxis);

xAxisG.select('.domain').attr('stroke', '#777').attr('d', `M${plot.left},0H${plot.right}`);
xAxisG.selectAll('.tick line').attr('stroke', '#555');
xAxisG.selectAll('text')
    .attr('font-family', sansFont)
    .attr('font-weight', 'bold')
    .attr('font-size', 14.5)
    .attr('fill', '#111')
    .attr('text-anchor', 'end')
    .attr('dx', 0)
    .attr('dy', 0)
    .attr('x', 0)
    .attr('y', 0)
    .attr('transform', 'translate(-1, 14) rotate(-45)');

const yAxisG = panel.append('g')
    .attr('id', 'y-axis')
    .attr('transform', `translate(${plot.left}, 0)`)
    .call(yAxis);

yAxisG.select('.domain').attr('stroke', '#777').attr('d', `M0,${plot.top}V${plot.bottom}`);
yAxisG.selectAll('.tick line').attr('stroke', '#555');
yAxisG.selectAll('text')
    .attr('font-family', axisFont)
    .attr('font-weight', 'bold')
    .attr('font-size', 16)
    .attr('fill', '#111')
    .attr('x', -5);

panel.append('text')
    .attr('transform', 'translate(111, 515) rotate(-90)')
    .attr('text-anchor', 'middle')
    .attr('font-family', axisFont)
    .attr('font-weight', 'bold')
    .attr('font-size', 17.5)
    .attr('fill', '#111')
    .text('Composite sustainability score');

const violinArea = d3.area()
    .curve(d3.curveCatmullRom)
    .y(d => yScale(d[0]));

const groups = panel.selectAll('g.region')
    .data(regions)
    .enter()
    .append('g')
    .attr('class', 'region')
    .attr('transform', d => `translate(${xScale(d)}, 0)`);

groups.append('path')
    .attr('d', (d, i) => violinArea
        .x0(p => -widthScale(p[1]))
        .x1(p => widthScale(p[1]))(violins[i]))
    .attr('fill', (d, i) => regionColors[i])
    .attr('stroke', '#333')
    .attr('stroke-width', 1.1);

groups.append('line')
    .attr('y1', (d, i) => yScale(boxes[i][0]))
    .attr('y2', (d, i) => yScale(boxes[i][4]))
    .attr('stroke', '#222')
    .attr('stroke-width', 1);

groups.append('rect')
    .attr('x', -4)
    .attr('width', 8)
    .attr('y', (d, i) => yScale(boxes[i][3]))
    .attr('height', (d, i) => yScale(boxes[i][1]) - yScale(boxes[i][3]))
    .attr('fill', '#fff')
    .attr('stroke', '#888')
    .attr('stroke-width', 0.8);

groups.append('line')
    .attr('x1', -4)
    .attr('x2', 4)
    .attr('y1', (d, i) => yScale(boxes[i][2]))
    .attr('y2', (d, i) => yScale(boxes[i][2]))
    .attr('stroke', '#333')
    .attr('stroke-width', 1.2);

// whisker caps
groups.selectAll('line.cap')
    .data((d, i) => [boxes[i][0], boxes[i][4]])
    .enter()
    .append('line')
    .attr('class', 'cap')
    .attr('x1', -2)
    .attr('x2', 2)
    .attr('y1', d => yScale(d))
    .attr('y2', d => yScale(d))
    .attr('stroke', '#222')
    .attr('stroke-width', 0.8);

groups.selectAll('circle.outlier')
    .data((d, i) => outliers[i])
    .enter()
    .append('circle')
    .attr('class', 'outlier')
    .attr('cy', d => yScale(d))
    .attr('r', 0.6)
    .attr('fill', '#222');

groups.append('text')
    .attr('y', 398)
    .attr('text-anchor', 'middle')
    .attr('font-family', sansFont)
    .attr('font-size', 16.5)
    .attr('fill', '#111')
    .text((d, i) => sigLetters[i]);
</script>
</body>
</html>
